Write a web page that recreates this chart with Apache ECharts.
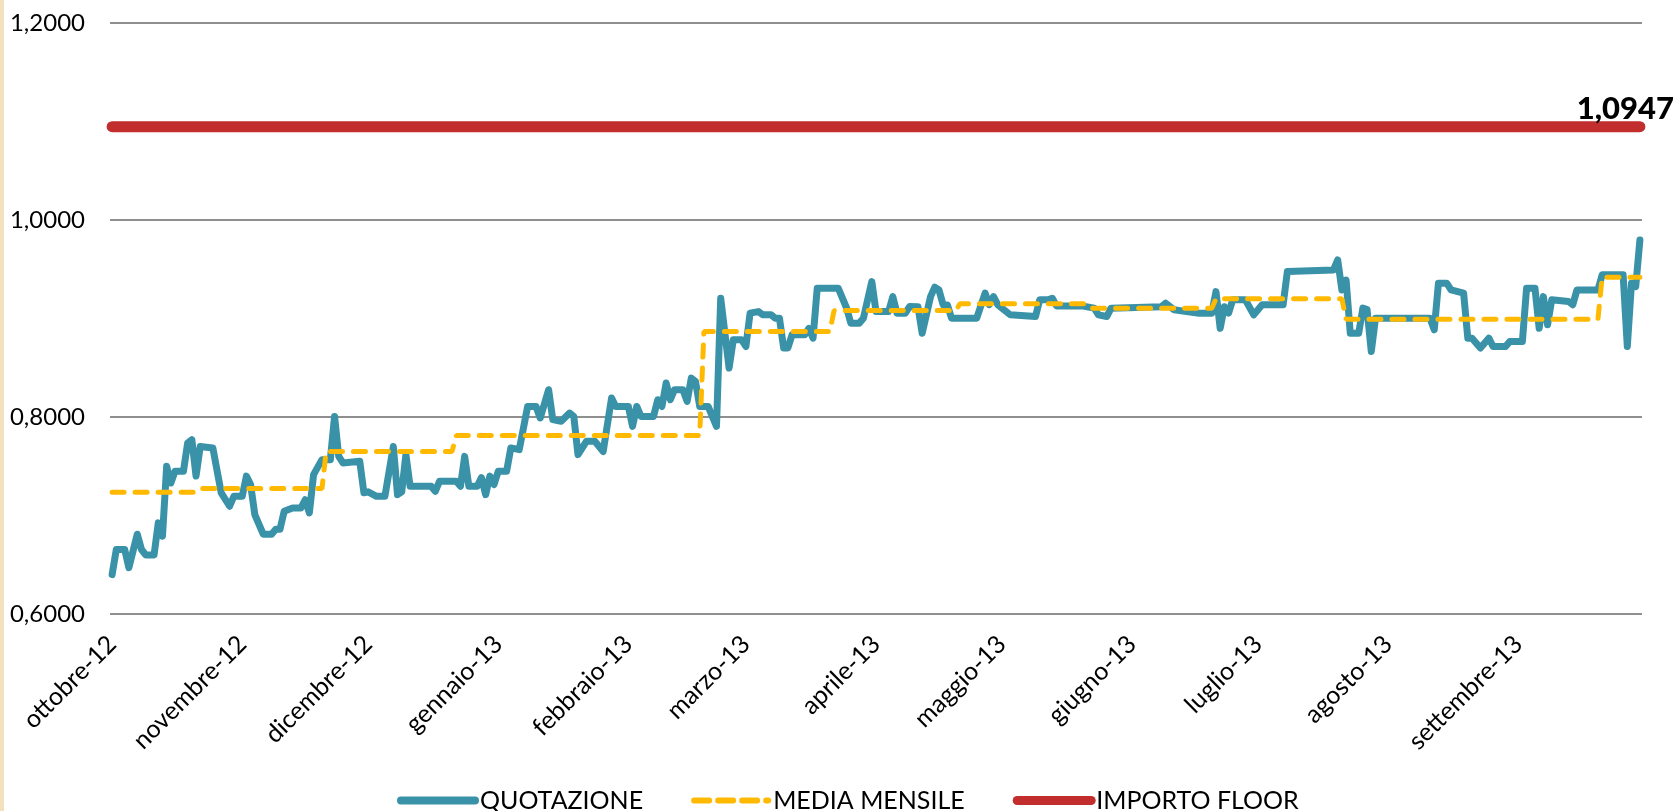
<!DOCTYPE html>
<html>
<head>
<meta charset="utf-8">
<script src="https://cdn.jsdelivr.net/npm/echarts@6/dist/echarts.min.js"></script>
<style>
  html, body { margin: 0; padding: 0; background: #fff; }
  #chart { width: 1674px; height: 811px; }
</style>
</head>
<body>
<div id="chart"></div>
<script>
// month tick labels (one per month, starting october 2012)
var monthLabels = ['ottobre-12', 'novembre-12', 'dicembre-12', 'gennaio-13', 'febbraio-13', 'marzo-13',
  'aprile-13', 'maggio-13', 'giugno-13', 'luglio-13', 'agosto-13', 'settembre-13'];

// QUOTAZIONE: day index (0 = 1 ott 2012) and value at each turning point
var quotDays = [0, 1, 3, 4, 6, 7, 8, 10, 11, 12, 13, 14, 15, 17, 18, 19, 20, 21, 24, 26, 28, 29, 31, 32, 33, 34,
  36, 38, 39, 40, 41, 43, 45, 46, 47, 48, 50, 52, 53, 54, 55, 59, 60, 61, 63, 65, 67, 68, 69, 70, 71, 76, 77,
  78, 82, 83, 84, 85, 87, 88, 89, 90, 91, 92, 94, 95, 97, 99, 101, 102, 104, 105, 107, 109, 110, 111, 113,
  115, 117, 119, 120, 123, 124, 125, 126, 129, 130, 131, 132, 133, 134, 136, 137, 138, 139, 140, 142, 144,
  145, 147, 148, 150, 151, 152, 154, 155, 157, 158, 159, 160, 161, 162, 165, 166, 167, 168, 173, 175, 176,
  178, 179, 181, 182, 185, 186, 187, 189, 190, 192, 193, 195, 196, 197, 198, 199, 200, 206, 208, 209, 210,
  211, 214, 220, 221, 223, 224, 225, 231, 234, 235, 237, 238, 250, 251, 253, 256, 259, 262, 263, 264, 265,
  266, 267, 270, 272, 274, 279, 280, 291, 292, 293, 294, 295, 297, 298, 299, 300, 301, 314, 315, 316, 318,
  319, 322, 323, 324, 326, 328, 329, 332, 333, 336, 337, 339, 340, 341, 342, 343, 347, 348, 349, 354, 355,
  360, 361, 362, 363, 364];
var quotValues = [0.640, 0.6655, 0.6655, 0.647, 0.681, 0.6655, 0.660, 0.660, 0.6925, 0.679, 0.750, 0.733,
  0.745, 0.745, 0.7737, 0.777, 0.740, 0.770, 0.7686, 0.723, 0.7094, 0.7195, 0.7195, 0.740, 0.7314, 0.701,
  0.681, 0.681, 0.686, 0.686, 0.7043, 0.7077, 0.7077, 0.716, 0.7027, 0.7415, 0.7567, 0.7567, 0.8006, 0.760,
  0.7534, 0.755, 0.723, 0.724, 0.7195, 0.7195, 0.770, 0.7212, 0.724, 0.7618, 0.7297, 0.7297, 0.7246, 0.7347,
  0.7347, 0.7297, 0.760, 0.7297, 0.7297, 0.7385, 0.7212, 0.740, 0.7314, 0.745, 0.745, 0.7686, 0.7669,
  0.8107, 0.8107, 0.799, 0.8277, 0.7973, 0.7956, 0.804, 0.8006, 0.7618, 0.7753, 0.7753, 0.765, 0.8193,
  0.8107, 0.8107, 0.7905, 0.8107, 0.8006, 0.8006, 0.8175, 0.8107, 0.8345, 0.8175, 0.8277, 0.8277, 0.8158,
  0.8395, 0.836, 0.8107, 0.8107, 0.7905, 0.9206, 0.8497, 0.8784, 0.8784, 0.8716, 0.9054, 0.907, 0.9037,
  0.9037, 0.9003, 0.9003, 0.870, 0.870, 0.8834, 0.8834, 0.890, 0.880, 0.9308, 0.9308, 0.9105, 0.8953,
  0.8953, 0.9003, 0.9375, 0.907, 0.907, 0.9222, 0.9054, 0.9054, 0.9121, 0.912, 0.885, 0.9222, 0.9318,
  0.929, 0.9138, 0.9138, 0.9003, 0.9003, 0.9257, 0.914, 0.9222, 0.914, 0.9037, 0.902, 0.919, 0.919, 0.9206,
  0.9128, 0.9128, 0.9105, 0.9037, 0.902, 0.9105, 0.912, 0.9156, 0.9088, 0.907, 0.9054, 0.9054, 0.9273,
  0.890, 0.912, 0.9054, 0.919, 0.919, 0.9037, 0.914, 0.914, 0.9476, 0.9493, 0.9595, 0.929, 0.939, 0.885,
  0.885, 0.9105, 0.909, 0.8665, 0.9003, 0.9003, 0.8885, 0.9358, 0.9358, 0.929, 0.9257, 0.880, 0.880, 0.870,
  0.880, 0.8716, 0.8716, 0.8766, 0.8766, 0.9308, 0.9308, 0.890, 0.9222, 0.8936, 0.919, 0.9172, 0.914, 0.929,
  0.929, 0.9443, 0.9443, 0.8716, 0.9358, 0.9324, 0.9797];

// MEDIA MENSILE: first day index of each period and its average
var mediaStart = [0, 21, 51, 82, 141, 172, 202, 233, 263, 294, 355];
var mediaValues = [0.7236, 0.7273, 0.7651, 0.7812, 0.8868, 0.908, 0.9149, 0.9105, 0.920, 0.8993, 0.9419];

// IMPORTO FLOOR
var floorValue = 1.0947;
var floorLabel = '1,0947';

var startDate = Date.UTC(2012, 9, 1);
var dayCount = 365;
var days = [];
for (var i = 0; i < dayCount; i++) {
  days.push(new Date(startDate + i * 86400000).toISOString().slice(0, 10));
}

var quotData = quotDays.map(function (d, k) { return [d, quotValues[k]]; });

var mediaData = [];
mediaStart.forEach(function (s, k) {
  var end = k + 1 < mediaStart.length ? mediaStart[k + 1] - 1 : dayCount - 1;
  mediaData.push([s, mediaValues[k]]);
  mediaData.push([end, mediaValues[k]]);
});

var floorData = [[0, floorValue], [dayCount - 1, floorValue]];

var font = 'Lato, "DejaVu Sans", sans-serif';

var chart = echarts.init(document.getElementById('chart'));

chart.setOption({
  backgroundColor: '#ffffff',
  animation: false,
  graphic: [{
    type: 'rect',
    left: 0, top: 0,
    shape: { width: 4, height: 811 },
    style: { fill: '#f1e2bd' },
    silent: true
  }],
  grid: { left: 110, right: 32, top: 23, bottom: 197 },
  legend: {
    left: 392,
    top: 783,
    itemWidth: 74,
    itemHeight: 26,
    itemGap: 48,
    itemStyle: { opacity: 0 },
    textStyle: { fontFamily: font, fontSize: 25, color: '#000' },
    data: [
      { name: 'QUOTAZIONE', lineStyle: { width: 8 } },
      { name: 'MEDIA MENSILE', lineStyle: { width: 6, type: [15, 9] } },
      { name: 'IMPORTO FLOOR', lineStyle: { width: 9 } }
    ]
  },
  xAxis: {
    type: 'category',
    data: days,
    boundaryGap: true,
    axisLine: { show: false },
    axisTick: { show: false },
    splitLine: { show: false },
    axisLabel: {
      rotate: 45,
      margin: 26,
      fontFamily: font,
      fontSize: 25,
      color: '#000',
      interval: function (idx, val) { return val.slice(8) === '01'; },
      formatter: function (val) {
        var y = +val.slice(0, 4), m = +val.slice(5, 7);
        return monthLabels[(y - 2012) * 12 + m - 10];
      }
    }
  },
  yAxis: {
    type: 'value',
    min: 0.6,
    max: 1.2,
    interval: 0.2,
    axisLine: { show: false },
    axisTick: { show: false },
    splitLine: { lineStyle: { color: '#8f8f8f', width: 2 } },
    axisLabel: {
      margin: 25,
      fontFamily: font,
      fontSize: 24,
      color: '#000',
      formatter: function (v) { return v.toFixed(4).replace('.', ','); }
    }
  },
  series: [
    {
      name: 'QUOTAZIONE',
      type: 'line',
      data: quotData,
      showSymbol: false,
      symbol: 'none',
      z: 3,
      lineStyle: { color: '#3a92a8', width: 7, join: 'round', cap: 'round' },
      itemStyle: { color: '#3a92a8' }
    },
    {
      name: 'MEDIA MENSILE',
      type: 'line',
      data: mediaData,
      showSymbol: false,
      symbol: 'none',
      z: 4,
      lineStyle: { color: '#ffb900', width: 5, type: [12, 11], cap: 'round' },
      itemStyle: { color: '#ffb900' }
    },
    {
      name: 'IMPORTO FLOOR',
      type: 'line',
      data: floorData,
      showSymbol: false,
      symbol: 'none',
      z: 2,
      lineStyle: { color: '#c22d2e', width: 11, cap: 'round' },
      itemStyle: { color: '#c22d2e' },
      endLabel: {
        show: true,
        formatter: function () { return floorLabel; },
        align: 'right',
        verticalAlign: 'bottom',
        offset: [26, -2],
        fontFamily: font,
        fontWeight: 900,
        fontSize: 31,
        color: '#000'
      }
    }
  ]
});

window.addEventListener('resize', function () { chart.resize(); });
</script>
</body>
</html>
